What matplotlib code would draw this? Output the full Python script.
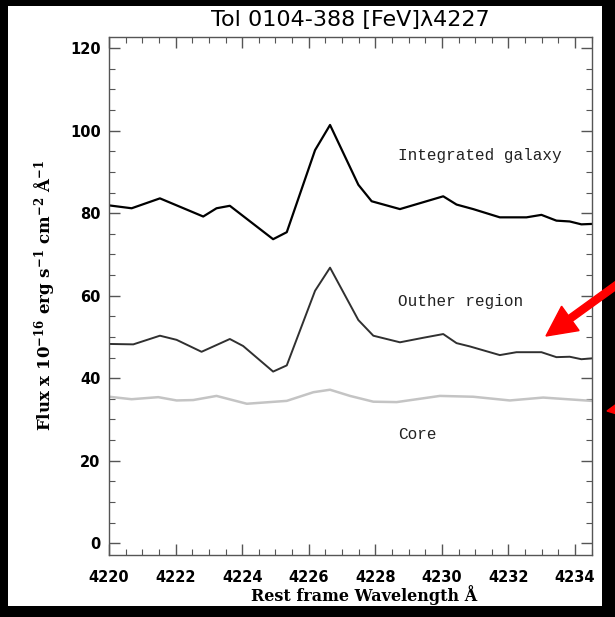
import numpy as np
import matplotlib
matplotlib.use("Agg")
import matplotlib.pyplot as plt
from matplotlib.ticker import MultipleLocator
from matplotlib.patches import Rectangle, FancyArrow

plt.rcParams['mathtext.default'] = 'regular'

#integrated galaxy
wl_gal = [4220.0, 4220.68, 4221.53, 4222.83, 4223.23, 4223.63, 4224.93, 4225.34,
          4226.19, 4226.64, 4227.49, 4227.89, 4228.74, 4230.04, 4230.44, 4230.94,
          4231.74, 4232.54, 4232.99, 4233.44, 4233.84, 4234.19, 4234.5]
flux_gal = [81.9, 81.2, 83.6, 79.2, 81.2, 81.8, 73.7, 75.4, 95.3, 101.4, 86.9, 82.9,
            81.0, 84.1, 82.1, 81.0, 79.0, 79.0, 79.6, 78.2, 78.0, 77.3, 77.4]

#outer region
wl_out = [4220.0, 4220.73, 4221.53, 4222.03, 4222.78, 4223.63, 4224.03, 4224.93,
          4225.34, 4226.19, 4226.64, 4227.49, 4227.94, 4228.74, 4229.44, 4230.04,
          4230.44, 4230.84, 4231.74, 4232.24, 4232.99, 4233.44, 4233.84, 4234.19, 4234.5]
flux_out = [48.3, 48.2, 50.3, 49.3, 46.4, 49.5, 47.8, 41.6, 43.1, 61.2, 66.8, 54.1,
            50.3, 48.7, 49.8, 50.7, 48.5, 47.7, 45.6, 46.3, 46.3, 45.1, 45.2, 44.6, 44.8]

#core
wl_core = [4220.0, 4220.68, 4221.48, 4222.03, 4222.53, 4223.23, 4224.14, 4225.34,
           4226.14, 4226.64, 4227.24, 4227.94, 4228.64, 4229.94, 4230.94, 4232.04,
           4233.04, 4234.5]
flux_core = [35.5, 34.9, 35.4, 34.6, 34.7, 35.7, 33.8, 34.5, 36.6, 37.2, 35.7, 34.3,
             34.2, 35.7, 35.5, 34.6, 35.3, 34.5]

labels = ["Integrated galaxy", "Outher region", "Core"]
label_y = [94.1, 58.5, 26.3]

W, H = 615, 617
fig = plt.figure(figsize=(W/100, H/100), dpi=100, facecolor="black")

#white slide area
fig.patches.append(Rectangle((8/W, 1 - 606/H), (602-8)/W, (606-6)/H,
                             transform=fig.transFigure, facecolor="white",
                             edgecolor="none", zorder=-5))

ax = fig.add_axes([109/W, 1 - 554.7/H, (591.7-109)/W, (554.7-36.7)/H])
ax.set_facecolor("white")

ax.plot(wl_gal, flux_gal, color="black", lw=1.6)
ax.plot(wl_out, flux_out, color="#303030", lw=1.4)
ax.plot(wl_core, flux_core, color="#c4c4c4", lw=1.8)

for txt, yy in zip(labels, label_y):
    ax.text(4228.68, yy, txt, family="Liberation Mono", fontsize=11.5,
            va="center", ha="left", color="#222222")

ax.set_xlim(4220, 4234.5)
ax.set_ylim(-2.8, 122.8)
ax.xaxis.set_major_locator(MultipleLocator(2))
ax.xaxis.set_minor_locator(MultipleLocator(0.5))
ax.yaxis.set_major_locator(MultipleLocator(20))
ax.yaxis.set_minor_locator(MultipleLocator(5))
ax.tick_params(which="both", direction="in", top=True, right=True, color="#555555")
ax.tick_params(which="major", length=8, width=1)
ax.tick_params(which="minor", length=4, width=0.8)
for lab in ax.get_xticklabels() + ax.get_yticklabels():
    lab.set_fontweight("bold")
    lab.set_fontsize(10.5)
ax.tick_params(axis="x", pad=11)
ax.tick_params(axis="y", pad=6)
for s in ax.spines.values():
    s.set_color("#555555")
    s.set_linewidth(1)

ax.set_title("Tol 0104-388 [FeV]\u03bb4227", fontsize=16, pad=8)
ax.set_xlabel("Rest frame Wavelength \u00c5", family="DejaVu Serif", fontsize=11.5,
              fontweight="bold")
ax.xaxis.set_label_coords(0.528, -0.059)
ax.set_ylabel("Flux x 10$^{-16}$ erg s$^{-1}$ cm$^{-2}$ \u00c5$^{-1}$",
              family="DejaVu Serif", fontsize=12, fontweight="bold", labelpad=9)

#red arrows added on the slide
fig.patches.append(FancyArrow(640/W, 1 - 268/H, (546-640)/W, -(336-268)/H,
                              width=7/H, head_width=30/H, head_length=30/W,
                              length_includes_head=True, color="red",
                              transform=fig.transFigure, zorder=5))
fig.patches.append(FancyArrow(660/W, 1 - 402/H, (607-660)/W, -(411-402)/H,
                              width=7/H, head_width=30/H, head_length=30/W,
                              length_includes_head=True, color="red",
                              transform=fig.transFigure, zorder=5))

fig.savefig("out.png", dpi=100, facecolor="black")
